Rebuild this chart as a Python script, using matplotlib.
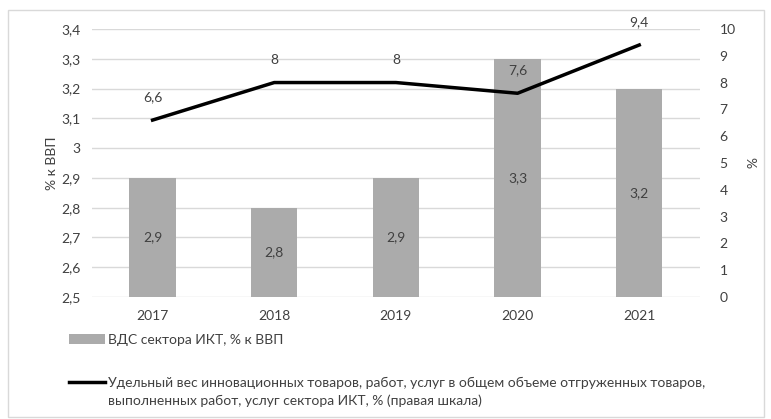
import matplotlib
matplotlib.use("Agg")
import matplotlib.pyplot as plt
from matplotlib.patches import Rectangle
import numpy as np

plt.rcParams['font.family'] = ['Lato', 'DejaVu Sans']

years = ["2017", "2018", "2019", "2020", "2021"]
bar_values = [2.9, 2.8, 2.9, 3.3, 3.2]
line_values = [6.6, 8, 8, 7.6, 9.4]
bar_labels = ["2,9", "2,8", "2,9", "3,3", "3,2"]
line_labels = ["6,6", "8", "8", "7,6", "9,4"]
left_ticks = [2.5, 2.6, 2.7, 2.8, 2.9, 3.0, 3.1, 3.2, 3.3, 3.4]
left_tick_labels = ["2,5", "2,6", "2,7", "2,8", "2,9", "3", "3,1", "3,2", "3,3", "3,4"]
right_ticks = list(range(0, 11))
bar_name = "ВДС сектора ИКТ, % к ВВП"
line_name_1 = "Удельный вес инновационных товаров, работ, услуг в общем объеме отгруженных товаров,"
line_name_2 = "выполненных работ, услуг сектора ИКТ, % (правая шкала)"

txt = "#404040"
W, H = 771, 419
fig = plt.figure(figsize=(7.71, 4.19), dpi=100)
fig.patches.append(Rectangle((0.011, 0.005), 0.98, 0.972, transform=fig.transFigure,
                             fill=False, edgecolor="#d9d9d9", linewidth=1.0))
ax = fig.add_axes([0.119, 0.291, 0.789, 0.64])
x = np.arange(len(years))
bars = ax.bar(x, [v - 2.5 for v in bar_values], bottom=2.5, width=0.38,
              color="#ababab", zorder=2, label=bar_name)
ax.set_ylim(2.5, 3.4)
ax.set_xlim(-0.5, len(years) - 0.5)
ax.set_yticks(left_ticks)
ax.set_yticklabels(left_tick_labels)
ax.set_xticks(x)
ax.set_xticklabels(years)
ax.grid(axis="y", color="#d9d9d9", linewidth=1.0, zorder=0)
ax.set_axisbelow(True)
for s in ax.spines.values():
    s.set_visible(False)
ax.tick_params(length=0, colors=txt, labelsize=10)
ax.tick_params(axis="x", pad=9)
ax.tick_params(axis="y", pad=8)
ax.set_ylabel("% к ВВП", color=txt, fontsize=10, labelpad=2)
for xi, v, lab in zip(x, bar_values, bar_labels):
    ax.text(xi, (2.5 + v) / 2, lab, ha="center", va="center", fontsize=10, color=txt, zorder=3)

ax2 = ax.twinx()
line, = ax2.plot(x, line_values, color="black", linewidth=2.5, zorder=4)
ax2.set_ylim(0, 10)
ax2.set_yticks(right_ticks)
for s in ax2.spines.values():
    s.set_visible(False)
ax2.tick_params(length=0, colors=txt, labelsize=10, pad=14)
ax2.set_ylabel("%", color=txt, fontsize=10, rotation=270, labelpad=14)
for xi, v, lab in zip(x, line_values, line_labels):
    ax2.annotate(lab, (xi, v), xytext=(0, 12), textcoords="offset points",
                 ha="center", va="bottom", fontsize=10, color=txt)

leg1 = fig.legend([bars], [bar_name], loc="center left",
                  bbox_to_anchor=(0.073, 1 - 340 / H), frameon=False, fontsize=10,
                  handlelength=2.6, handletextpad=0.2, labelcolor=txt)
leg2 = fig.legend([line], [line_name_1], loc="center left",
                  bbox_to_anchor=(0.073, 1 - 383 / H), frameon=False, fontsize=10,
                  handlelength=2.6, handletextpad=0.2, labelcolor=txt)
fig.canvas.draw()
bb = leg2.get_texts()[0].get_window_extent()
fig.text(bb.x0 / W, (bb.y0 + bb.y1) / 2 / H - 18 / H, line_name_2, ha="left", va="center",
         fontsize=10, color=txt)
fig.savefig("out.png", dpi=100)
